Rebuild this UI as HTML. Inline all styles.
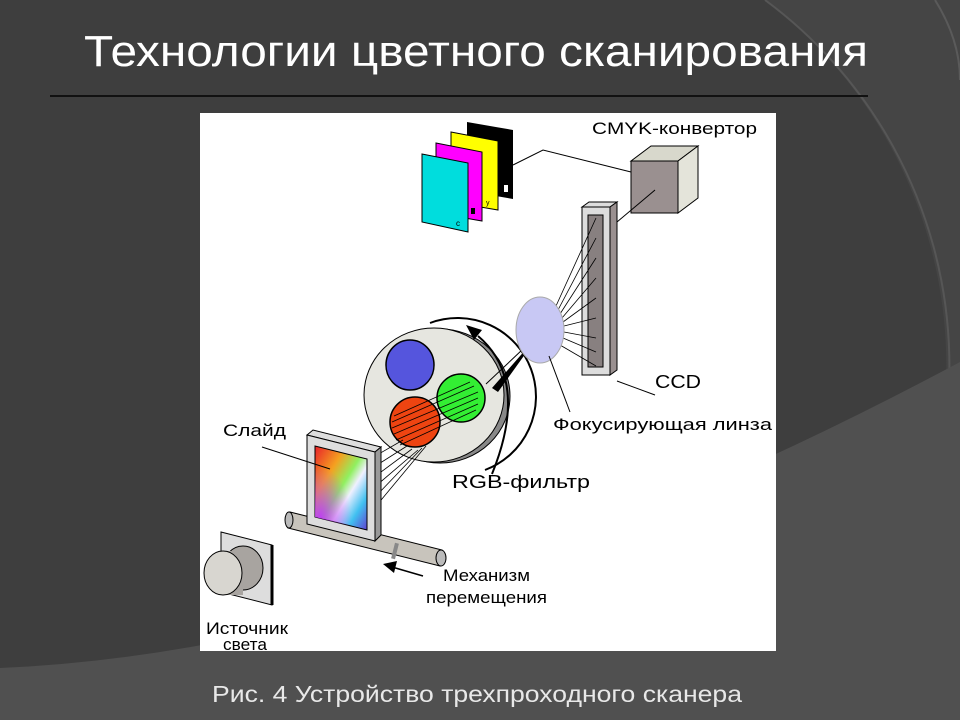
<!DOCTYPE html>
<html><head><meta charset="utf-8"><style>
html,body{margin:0;padding:0;width:960px;height:720px;overflow:hidden;background:#3c3c3c}
svg{display:block}
text{font-family:"Liberation Sans",sans-serif}
</style></head><body>
<svg width="960" height="720" viewBox="0 0 960 720" xmlns="http://www.w3.org/2000/svg">
<defs>
<linearGradient id="sl" x1="0" y1="0" x2="1" y2="1">
<stop offset="0" stop-color="#e8202a"/><stop offset="0.3" stop-color="#f5a020"/>
<stop offset="0.5" stop-color="#90f060"/><stop offset="0.62" stop-color="#f0f0ff"/>
<stop offset="0.8" stop-color="#40c0f0"/><stop offset="1" stop-color="#6040d0"/>
</linearGradient>
<radialGradient id="sl2" cx="0.1" cy="0.85" r="0.6"><stop offset="0" stop-color="#c040f0"/><stop offset="1" stop-color="#c040f0" stop-opacity="0"/></radialGradient>
</defs>
<rect width="960" height="720" fill="#3e3e3e"/>
<path d="M765,0 L960,0 L960,720 L780,720 A460,460 0 0 0 765,0 Z" fill="#454545"/>
<path d="M765,0 A455,455 0 0 1 780,720" fill="none" stroke="#565656" stroke-width="2"/>
<path d="M935,0 Q960,40 960,80" fill="none" stroke="#5a5a5a" stroke-width="2"/>
<path d="M0,668 Q420,650 960,362 L960,720 L0,720 Z" fill="#505050"/>
<text x="84" y="66" font-size="44" fill="#ffffff" textLength="784" lengthAdjust="spacingAndGlyphs">Технологии цветного сканирования</text>
<line x1="50" y1="96" x2="868" y2="96" stroke="#111" stroke-width="2"/>
<rect x="200" y="113" width="576" height="538" fill="#ffffff"/>

<!-- CMYK cards -->
<polygon points="467,122 513,130 513,199 467,191" fill="#000"/>
<polygon points="451,132 498,141 498,210 451,202" fill="#ffff00" stroke="#000"/>
<polygon points="436,143 482,152 482,221 436,213" fill="#ff00ff" stroke="#000"/>
<polygon points="422,154 468,163 468,232 422,222" fill="#00dddd" stroke="#000"/>
<rect x="504" y="185" width="4" height="7" fill="#fff"/>
<text x="486" y="205" font-size="7">y</text>
<rect x="471" y="208" width="4" height="6" fill="#000"/>
<text x="456" y="226" font-size="8">c</text>
<polyline points="513,165 543,150 631,172" fill="none" stroke="#000" stroke-width="1"/>

<!-- cube -->
<polygon points="631,161 651,146 698,146 678,161" fill="#d8d8cc" stroke="#000"/>
<polygon points="678,161 698,146 698,198 678,213" fill="#e4e4da" stroke="#000"/>
<rect x="631" y="161" width="47" height="52" fill="#9a9090" stroke="#000"/>
<line x1="655" y1="190" x2="617" y2="222" stroke="#000"/>

<!-- CCD -->
<polygon points="582,207 589,202 617,202 610,207" fill="#ddd" stroke="#000"/>
<polygon points="610,207 617,202 617,370 610,375" fill="#9a9090" stroke="#000"/>
<rect x="582" y="207" width="28" height="168" fill="#ddd" stroke="#000"/>
<rect x="588" y="215" width="15" height="152" fill="#888080" stroke="#000"/>
<line x1="617" y1="381" x2="655" y2="395" stroke="#000"/>
<text x="655" y="388" font-size="18" textLength="46" lengthAdjust="spacingAndGlyphs">CCD</text>

<!-- fan lines lens to CCD -->
<g stroke="#000" stroke-width="0.8">
<line x1="556" y1="306" x2="596" y2="218"/><line x1="558" y1="310" x2="596" y2="238"/>
<line x1="560" y1="314" x2="596" y2="258"/><line x1="562" y1="318" x2="596" y2="278"/>
<line x1="563" y1="322" x2="596" y2="298"/><line x1="564" y1="326" x2="596" y2="318"/>
<line x1="564" y1="332" x2="596" y2="338"/><line x1="563" y1="338" x2="596" y2="352"/>
<line x1="560" y1="345" x2="596" y2="366"/>
</g>

<!-- wheel -->
<ellipse cx="440" cy="396" rx="70" ry="67" fill="#888" stroke="#000"/>
<ellipse cx="434" cy="395" rx="70" ry="67" fill="#e6e6e0" stroke="#000"/>
<path d="M430,323 A72,72 0 0 1 485,470" fill="none" stroke="#000" stroke-width="2"/>
<ellipse cx="410" cy="365" rx="24" ry="25" fill="#5555dd" stroke="#000" stroke-width="1.5"/>
<ellipse cx="461" cy="398" rx="24" ry="24" fill="#33ee33" stroke="#000" stroke-width="1.5"/>
<ellipse cx="415" cy="422" rx="25" ry="25" fill="#ee4411" stroke="#000" stroke-width="1.5"/>
<g stroke="#000" stroke-width="0.8">
<line x1="392" y1="428" x2="478" y2="392"/><line x1="394" y1="434" x2="478" y2="398"/>
<line x1="396" y1="440" x2="478" y2="404"/><line x1="400" y1="445" x2="476" y2="410"/>
<line x1="392" y1="422" x2="474" y2="386"/><line x1="394" y1="416" x2="470" y2="382"/>
</g>
<!-- rotation arc arrow -->
<path d="M478,336 Q530,380 492,474" fill="none" stroke="#000" stroke-width="2"/>
<polygon points="466,325 482,330 474,340" fill="#000"/>

<!-- beam wheel to lens -->
<polygon points="492,388 541,332 498,392" fill="#000"/>
<line x1="486" y1="384" x2="541" y2="332" stroke="#000"/>

<!-- lens -->
<ellipse cx="540" cy="330" rx="24" ry="33" fill="#c8c8f4" stroke="#aaa"/>
<line x1="549" y1="356" x2="570" y2="412" stroke="#000"/>
<text x="553" y="430" font-size="17" textLength="219" lengthAdjust="spacingAndGlyphs">Фокусирующая линза</text>

<text x="592" y="134" font-size="17" textLength="165" lengthAdjust="spacingAndGlyphs">CMYK-конвертор</text>

<!-- beams slide to wheel -->
<g stroke="#000" stroke-width="0.8">
<line x1="377" y1="455" x2="403" y2="440"/><line x1="377" y1="465" x2="407" y2="446"/>
<line x1="377" y1="475" x2="412" y2="449"/><line x1="377" y1="485" x2="418" y2="450"/>
<line x1="377" y1="495" x2="422" y2="448"/><line x1="377" y1="505" x2="426" y2="446"/>
</g>

<!-- rail -->
<polygon points="290,512 442,550 440,566 288,528" fill="#c8c4bc" stroke="#000"/>
<ellipse cx="289" cy="520" rx="4" ry="8" fill="#bbb" stroke="#000"/>
<rect x="393" y="543" width="4" height="16" fill="#888" transform="rotate(14 395 551)"/>
<ellipse cx="441" cy="558" rx="5" ry="8" fill="#bbb" stroke="#000"/>

<!-- slide -->
<polygon points="307,435 375,452 381,447 313,430" fill="#ddd" stroke="#000"/>
<polygon points="375,452 381,447 381,535 375,541" fill="#999" stroke="#000"/>
<polygon points="307,435 375,452 375,541 307,524" fill="#ddd" stroke="#000"/>
<polygon points="315,446 367,459 367,530 315,517" fill="url(#sl)" stroke="#000"/>
<polygon points="315,446 367,459 367,530 315,517" fill="url(#sl2)"/>
<line x1="262" y1="447" x2="330" y2="469" stroke="#000"/>
<text x="223" y="436" font-size="17" textLength="63" lengthAdjust="spacingAndGlyphs">Слайд</text>

<!-- move arrow -->
<line x1="423" y1="576" x2="392" y2="567" stroke="#000" stroke-width="1.5"/>
<polygon points="383,564 397,561 394,573" fill="#000"/>
<text x="443" y="581" font-size="17" textLength="87" lengthAdjust="spacingAndGlyphs">Механизм</text>
<text x="426" y="603" font-size="17" textLength="121" lengthAdjust="spacingAndGlyphs">перемещения</text>

<!-- light source -->
<polygon points="221,532 272,545 272,605 221,592" fill="#ddd" stroke="#000"/>
<line x1="272" y1="545" x2="272" y2="605" stroke="#000" stroke-width="3"/>
<ellipse cx="243" cy="568" rx="20" ry="22" fill="#a8a4a0" stroke="#000"/>
<rect x="223" y="551" width="20" height="44" fill="#a8a4a0"/>
<ellipse cx="223" cy="573" rx="19" ry="22" fill="#d8d6d0" stroke="#000"/>
<text x="206" y="634" font-size="17" textLength="82" lengthAdjust="spacingAndGlyphs">Источник</text>
<text x="223" y="650" font-size="17" textLength="44" lengthAdjust="spacingAndGlyphs">света</text>

<text x="452" y="488" font-size="18" textLength="138" lengthAdjust="spacingAndGlyphs">RGB-фильтр</text>

<text x="212" y="702" font-size="23" fill="#e8e8e8" textLength="530" lengthAdjust="spacingAndGlyphs">Рис. 4 Устройство трехпроходного сканера</text>
</svg>
</body></html>
